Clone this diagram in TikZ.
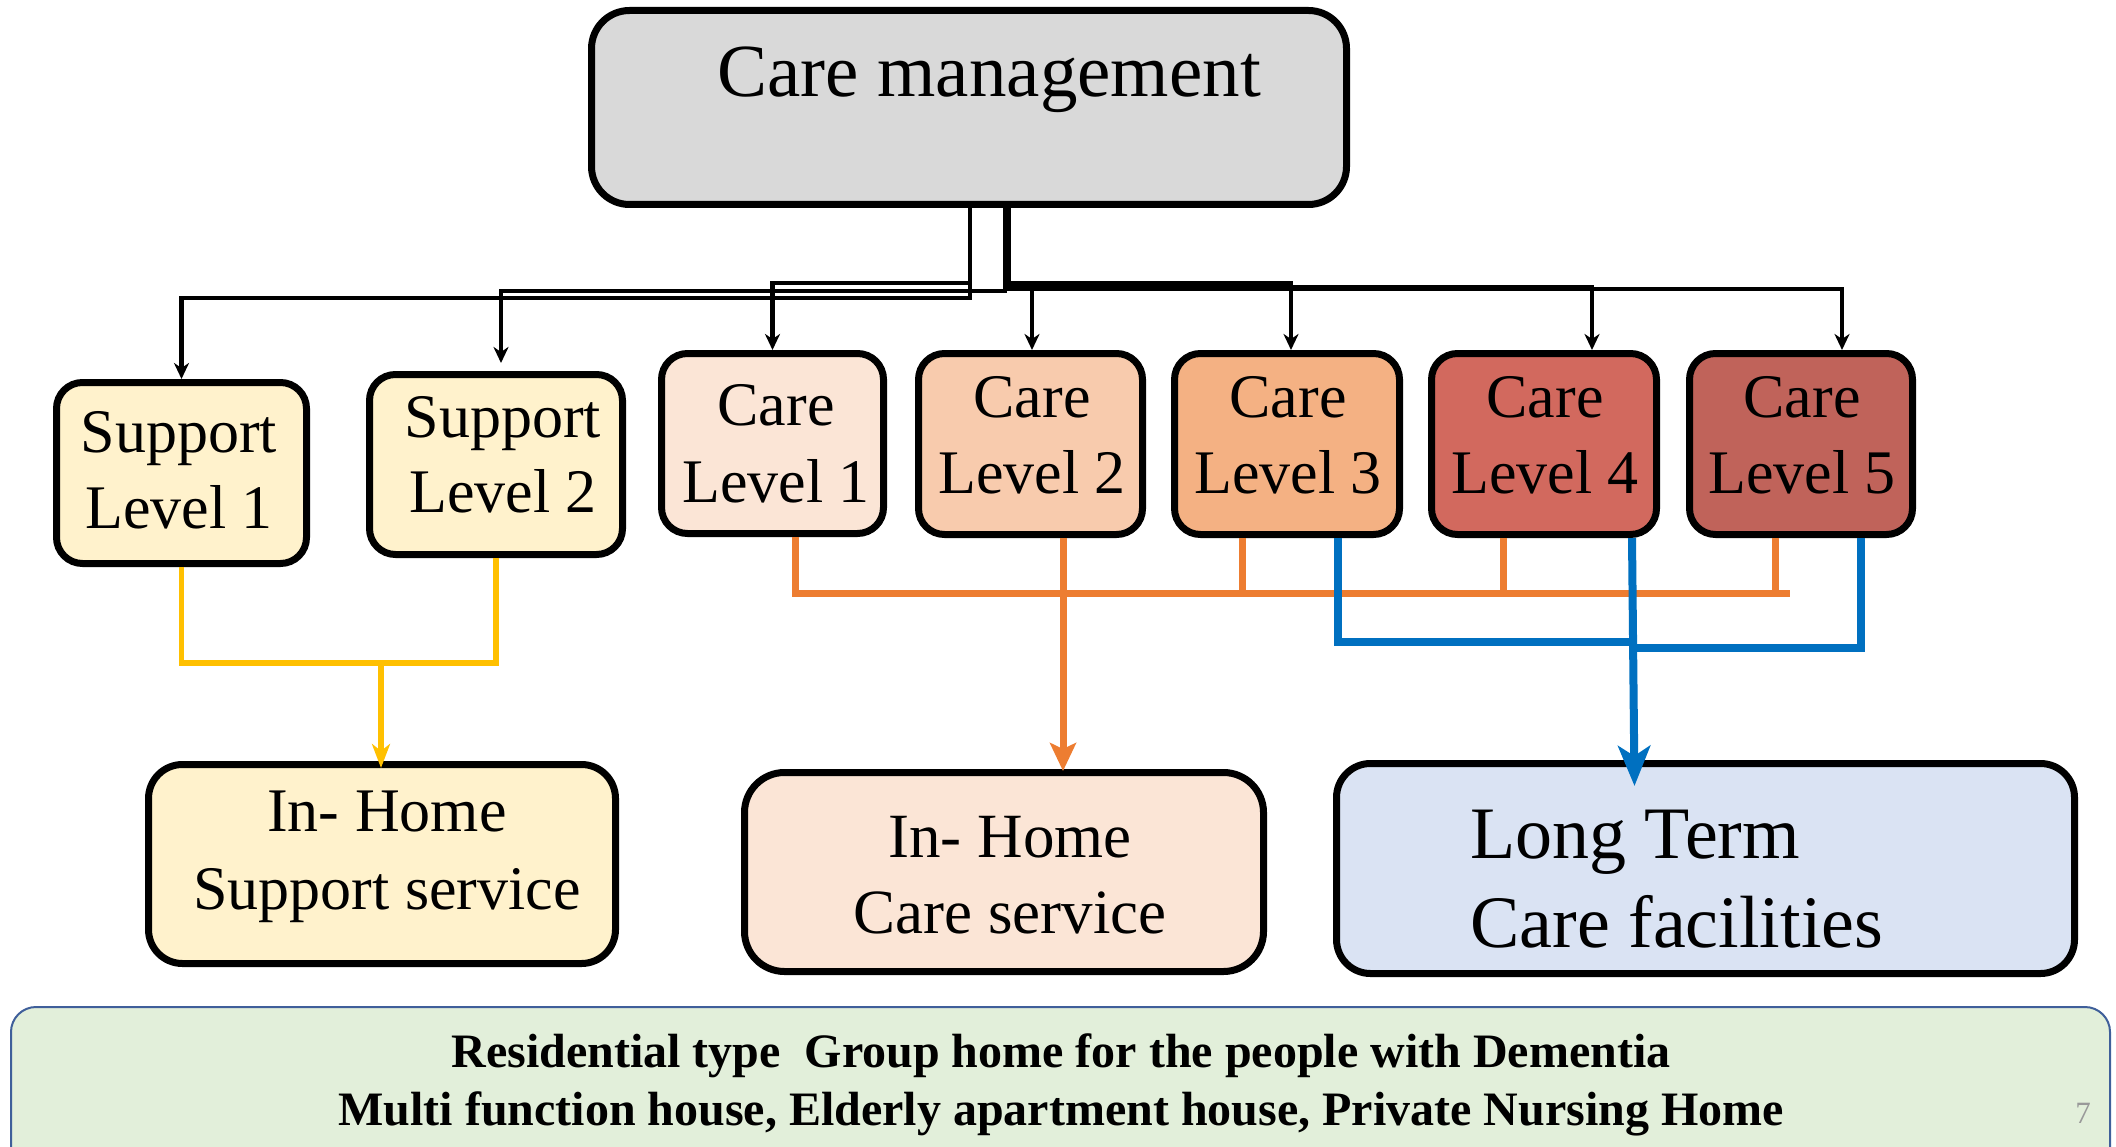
\documentclass[tikz,border=0pt]{standalone}
\usepackage{fontspec}
\setmainfont{Liberation Serif}
\usetikzlibrary{arrows.meta}
\definecolor{mgmtgray}{HTML}{D9D9D9}
\definecolor{suppy}{HTML}{FFF2CC}
\definecolor{careA}{HTML}{FBE5D6}
\definecolor{careB}{HTML}{F8CBAD}
\definecolor{careC}{HTML}{F4B183}
\definecolor{careD}{HTML}{D2695E}
\definecolor{careE}{HTML}{C0635A}
\definecolor{ltcblue}{HTML}{DAE3F3}
\definecolor{resgreen}{HTML}{E2EFDA}
\definecolor{resborder}{HTML}{3F5F9A}
\definecolor{lnyellow}{HTML}{FFC000}
\definecolor{lnorange}{HTML}{ED7D31}
\definecolor{lnblue}{HTML}{0070C0}
\begin{document}
\begin{tikzpicture}[x=1pt,y=-1pt,
  box/.style={draw=black, line width=7pt, rounded corners=26pt, inner sep=0pt},
  lvltext/.style={anchor=base, align=center, font=\fontsize{62pt}{76pt}\selectfont},
  blk/.style={draw=black, line width=4.5pt, -{Stealth[length=16pt,width=15pt,inset=5pt]}},
  ylw/.style={draw=lnyellow, line width=5.5pt},
  ylwarrow/.style={ylw, -{Stealth[length=24pt,width=18pt,inset=7pt]}},
  org/.style={draw=lnorange, line width=7pt},
  orgarrow/.style={org, -{Stealth[length=28pt,width=26pt,inset=6pt]}},
  blu/.style={draw=lnblue, line width=8pt},
  bluarrow/.style={blu, -{Stealth[length=40pt,width=32pt,inset=10pt]}}
]
\useasboundingbox (0,0) rectangle (2116,1147);

% boxes
\node[box, fill=mgmtgray, rounded corners=38pt, minimum width=755pt, minimum height=194pt] (mgmt) at (969,107.5) {};
\node[box, fill=suppy, minimum width=250pt, minimum height=181pt] (sl1) at (181.5,473) {};
\node[box, fill=suppy, minimum width=253pt, minimum height=180pt] (sl2) at (496,464.5) {};
\node[box, fill=careA, minimum width=222pt, minimum height=180pt] (cl1) at (772.5,443.5) {};
\node[box, fill=careB, minimum width=224pt, minimum height=181pt] (cl2) at (1030.5,444) {};
\node[box, fill=careC, minimum width=225pt, minimum height=181pt] (cl3) at (1287,444) {};
\node[box, fill=careD, minimum width=225pt, minimum height=181pt] (cl4) at (1544,444) {};
\node[box, fill=careE, minimum width=223pt, minimum height=181pt] (cl5) at (1801,444) {};
\node[box, fill=suppy, rounded corners=34pt, minimum width=467pt, minimum height=199pt] (ihs) at (382,864) {};
\node[box, fill=careA, rounded corners=40pt, minimum width=519pt, minimum height=199pt] (ihc) at (1004,872) {};
\node[box, fill=ltcblue, rounded corners=34pt, minimum width=738pt, minimum height=210pt] (ltc) at (1705.5,868.5) {};
\node[draw=resborder, line width=2pt, fill=resgreen, rounded corners=25pt, inner sep=0pt,
      minimum width=2099pt, minimum height=168pt] (res) at (1060.5,1091) {};

% black connectors
\coordinate (m1) at ([xshift=1pt]mgmt.south);
\coordinate (m2) at ([xshift=36pt]mgmt.south);
\coordinate (m3) at ([xshift=40pt]mgmt.south);
\draw[blk] (m1) -- ++(0,90) -| (sl1.north);
\draw[blk] (m1) -- ++(0,75) -| (cl1.north);
\draw[blk, shorten >=8pt] (m2) -- ++(0,83) -| ([xshift=5pt]sl2.north);
\draw[blk] (m2) -- ++(0,78) -| ([xshift=1.5pt]cl2.north);
\draw[blk] (m3) -- ++(0,75) -| ([xshift=4pt]cl3.north);
\draw[blk] (m3) -- ++(0,79) -| ([xshift=48pt]cl4.north);
\draw[blk] (m3) -- ++(0,81) -| ([xshift=41pt]cl5.north);

% yellow connectors
\coordinate (yj) at (381,663);
\draw[ylw] (sl1.south) |- (yj) -| (sl2.south);
\draw[ylwarrow] (yj) -- ([yshift=-7pt]yj |- ihs.north);

% orange connectors
\coordinate (ob) at (1790,593);
\draw[org] ([xshift=22.5pt]cl1.south) |- (ob);
\draw[org] ([xshift=-45pt]cl3.south) -- ++(0,58.5);
\draw[org] ([xshift=-41pt]cl4.south) -- ++(0,58.5);
\draw[org] ([xshift=-26pt]cl5.south) -- ++(0,58.5);
\draw[orgarrow] ([xshift=32.5pt]cl2.south) -- ([xshift=32.5pt,yshift=-2pt]cl2.south |- ihc.north);

% blue connectors
\coordinate (bjl) at (1634,642);
\coordinate (bjr) at (1634,648);
\draw[blu] ([xshift=51pt]cl3.south) |- (bjl);
\draw[blu] ([xshift=60pt]cl5.south) |- (bjr);
\draw[bluarrow] ([xshift=88pt]cl4.south) -- ([xshift=90.5pt,yshift=-26pt]cl4.south |- ltc.north);

% texts (base anchor = baseline of the last line)
\node[anchor=base, font=\fontsize{75pt}{90pt}\selectfont] (tmgmt) at (989,97) {Care management};
\node[lvltext] (tsl1) at (179,528) {Support\\Level 1};
\node[lvltext, font=\fontsize{62pt}{75pt}\selectfont] (tsl2) at (503,512) {Support\\Level 2};
\node[lvltext, font=\fontsize{62pt}{77pt}\selectfont] (tcl1) at (776,502) {Care\\Level 1};
\node[lvltext] (tcl2) at (1032,493) {Care\\Level 2};
\node[lvltext] (tcl3) at (1288,493) {Care\\Level 3};
\node[lvltext] (tcl4) at (1545,493) {Care\\Level 4};
\node[lvltext] (tcl5) at (1802,493) {Care\\Level 5};
\node[anchor=base, align=center, font=\fontsize{62pt}{78pt}\selectfont] (tihs) at (387,909) {In- Home\\Support service};
\node[anchor=base, align=center, font=\fontsize{63pt}{76pt}\selectfont] (tihc) at (1010,933) {In- Home\\Care service};
\node[anchor=base west, align=left, inner sep=0pt, font=\fontsize{74pt}{89pt}\selectfont] (tltc) at (1470,947) {Long Term\\Care facilities};
\node[anchor=base, align=center, font=\bfseries\fontsize{48pt}{57.5pt}\selectfont] (tres) at (1061,1125)
  {Residential type~ Group home for the people with Dementia\\Multi function house, Elderly apartment house, Private Nursing Home};
\node[anchor=base, text=black!40, font=\fontsize{31pt}{31pt}\selectfont] (pgnum) at (2083,1123) {7};
\end{tikzpicture}
\end{document}
